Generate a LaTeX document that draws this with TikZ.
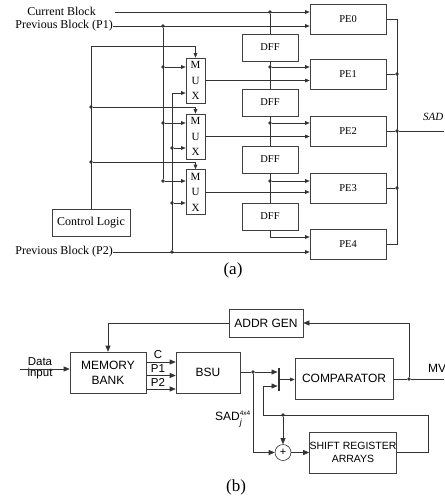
\documentclass[tikz,border=0pt]{standalone}
\usepackage{fontspec}
\setmainfont{Liberation Serif}
\setsansfont{Liberation Sans}
\usetikzlibrary{arrows.meta,calc}
\begin{document}
\begin{tikzpicture}[x=1pt,y=-1pt,
  wire/.style={draw=black!80, line width=0.6pt},
  arr/.style={wire, -{Triangle[length=4.5pt,width=3.6pt]}},
  barr/.style={wire, -{Triangle[length=6pt,width=5pt]}},
  dot/.style={circle, fill=black!80, inner sep=0pt, minimum size=3.6pt},
  blk/.style={draw=black!75, line width=0.6pt, rectangle, inner sep=0pt, align=center},
  lbl/.style={inner sep=0pt, font=\fontsize{12}{14}\selectfont},
  slbl/.style={inner sep=0pt, font=\sffamily\fontsize{11.5}{13}\selectfont},
  pebox/.style={blk, minimum width=76pt, minimum height=30pt, font=\fontsize{10.5}{12}\selectfont},
  dffbox/.style={blk, minimum width=56pt, minimum height=27pt, font=\fontsize{10.5}{12}\selectfont},
  muxbox/.style={blk, minimum width=19pt, minimum height=45pt, font=\fontsize{11}{15.5}\selectfont},
  sbox/.style={blk, font=\sffamily\fontsize{12}{15}\selectfont}
]
\useasboundingbox (0,0) rectangle (444,500);

% ---------------- (a) ----------------
\node[pebox] (pe0) at (348,19) {PE0};
\node[pebox] (pe1) at (348,74) {PE1};
\node[pebox] (pe2) at (348,131) {PE2};
\node[pebox] (pe3) at (348,188) {PE3};
\node[pebox] (pe4) at (348,244) {PE4};

\node[dffbox] (dff1) at (270,47.5) {DFF};
\node[dffbox] (dff2) at (270,102.5) {DFF};
\node[dffbox] (dff3) at (270,159.5) {DFF};
\node[dffbox] (dff4) at (270,216.5) {DFF};

\node[muxbox] (mux1) at (195.5,80.5) {M\\U\\X};
\node[muxbox] (mux2) at (195.5,136.5) {M\\U\\X};
\node[muxbox] (mux3) at (195.5,192) {M\\U\\X};

\node[blk, minimum width=78pt, minimum height=27pt, font=\fontsize{12}{14}\selectfont] (ctl) at (91,222.5) {Control Logic};

\node[lbl, anchor=east] (cbt) at (96,11) {Current Block};
\node[lbl, anchor=east] (p1t) at (113,26) {Previous Block (P1)};
\node[lbl, anchor=east] (p2t) at (113,252) {Previous Block (P2)};

% current block + DFF chain
\coordinate (cbs) at (115,12);
\node[dot] (d0) at (270,12) {};
\draw[arr] (cbs) -- (pe0.west |- cbs);
\draw[wire] (d0) -- (dff1.north);
\node[dot] (e1) at (270,67) {};
\node[dot] (e2) at (270,123) {};
\node[dot] (e3) at (270,181) {};
\coordinate (e4) at (270,237);
\draw[wire] (dff1.south) -- (dff2.north);
\draw[wire] (dff2.south) -- (dff3.north);
\draw[wire] (dff3.south) -- (dff4.north);
\draw[arr] (dff4.south) -- (e4) -- (pe4.west |- e4);
\draw[arr] (e1) -- (pe1.west |- e1);
\draw[arr] (e2) -- (pe2.west |- e2);
\draw[arr] (e3) -- (pe3.west |- e3);

% P1 bus
\draw[arr] (p1t.east) -- (pe0.west |- p1t.east);
\node[dot] (q0) at (163,26) {};
\node[dot] (q1) at (163,67) {};
\node[dot] (q2) at (163,123) {};
\node[dot] (q3) at (163,181) {};
\draw[wire] (q0) -- (q3);
\draw[arr] (q1) -- (mux1.west |- q1);
\draw[arr] (q2) -- (mux2.west |- q2);
\draw[arr] (q3) -- (mux3.west |- q3);

% P2 bus
\draw[arr] (p2t.east) -- (pe4.west |- p2t.east);
\node[dot] (r3) at (172,252) {};
\node[dot] (r2) at (172,203) {};
\node[dot] (r1) at (172,148) {};
\coordinate (r0) at (172,93);
\draw[arr] (r3) -- (r0) -- (mux1.west |- r0);
\draw[arr] (r1) -- (mux2.west |- r1);
\draw[arr] (r2) -- (mux3.west |- r2);

% control
\coordinate (c0) at (91,46);
\node[dot] (c1) at (91,107) {};
\node[dot] (c2) at (91,162) {};
\draw[arr] (ctl.north) -- (c0) -- (c0 -| mux1.north) -- (mux1.north);
\draw[arr] (c1) -- (c1 -| mux2.north) -- (mux2.north);
\draw[arr] (c2) -- (c2 -| mux3.north) -- (mux3.north);

% mux outputs
\draw[arr] (mux1.east) -- (pe1.west |- mux1.east);
\draw[arr] (mux2.east) -- (pe2.west |- mux2.east);
\draw[arr] (mux3.east) -- (pe3.west |- mux3.east);

% PE outputs
\coordinate (o0) at (397,19);
\coordinate (o4) at (397,244);
\node[dot] (o1) at (397,74) {};
\node[dot] (o2) at (397,131) {};
\node[dot] (o3) at (397,188) {};
\draw[wire] (pe0.east) -- (o0) -- (o4) -- (pe4.east);
\draw[wire] (pe1.east) -- (o1);
\draw[wire] (pe2.east) -- (o2);
\draw[wire] (pe3.east) -- (o3);
\coordinate (sadend) at (444,131);
\draw[wire] (o2) -- (sadend);
\node[inner sep=0pt, anchor=west, font=\itshape\fontsize{11}{13}\selectfont] (sadt) at (423,117) {SAD};

\node[inner sep=0pt, font=\fontsize{17}{19}\selectfont] (capa) at (233,270) {(a)};

% ---------------- (b) ----------------
\node[sbox, minimum width=76pt, minimum height=41pt] (mb) at (108,372.5) {MEMORY\\BANK};
\node[sbox, minimum width=64pt, minimum height=41pt] (bsu) at (208,372.5) {BSU};
\node[sbox, minimum width=74pt, minimum height=28pt] (adg) at (266,323) {ADDR GEN};
\node[sbox, minimum width=98pt, minimum height=41pt] (comp) at (344,378.5) {COMPARATOR};
\node[blk, minimum width=82pt, minimum height=41pt, font=\sffamily\fontsize{10.5}{13.5}\selectfont] (sr) at (353,452.5) {SHIFT REGISTER\\ARRAYS};
\node[draw=black!80, line width=0.6pt, circle, minimum size=16pt, inner sep=0pt, font=\sffamily\fontsize{11}{12}\selectfont] (add) at (283,452.5) {+};
\node[fill=black!80, minimum width=2.5pt, minimum height=23pt, inner sep=0pt] (bar) at (279,379.5) {};

\node[slbl] (datat) at (40,362) {Data};
\node[slbl] (inputt) at (40,374) {input};
\coordinate (din) at (20,369);
\draw[barr] (din) -- (mb.west |- din);

\coordinate (yc) at (0,362);
\coordinate (yp1) at (0,375.5);
\coordinate (yp2) at (0,389);
\draw[barr] (mb.east |- yc) -- (bsu.west |- yc);
\draw[barr] (mb.east |- yp1) -- (bsu.west |- yp1);
\draw[barr] (mb.east |- yp2) -- (bsu.west |- yp2);
\node[slbl] (lc) at (158,355) {C};
\node[slbl] (lp1) at (158,368.5) {P1};
\node[slbl] (lp2) at (158,382) {P2};

\draw[barr] (adg.west) -- (adg.west -| mb.north) -- (mb.north);

\node[dot] (bd) at (253,372) {};
\draw[wire] (bsu.east |- bd) -- (bd);
\draw[barr] (bd) -- (bar.west |- bd);
\draw[arr] (bar.east) -- (comp.west |- bar.east);

\node[dot] (md) at (409,379) {};
\coordinate (mvend) at (444,379);
\draw[wire] (comp.east |- md) -- (md) -- (mvend);
\node[slbl, anchor=west, font=\sffamily\fontsize{12}{14}\selectfont] (mvt) at (428,368) {MV};
\draw[barr] (md) -- (md |- adg.east) -- (adg.east);

\coordinate (sa) at (253,452.5);
\draw[barr] (bd) -- (sa) -- (add.west);
\draw[barr] (add.east) -- (sr.west |- add.east);

\coordinate (f1) at (428,452.5);
\coordinate (f2) at (428,415);
\node[dot] (fd) at (283,415) {};
\coordinate (f3) at (263,415);
\coordinate (f4) at (263,386);
\draw[barr] (sr.east) -- (f1) -- (f2) -- (f3) -- (f4) -- (bar.west |- f4);
\draw[barr] (fd) -- (add.north);

\node[slbl, anchor=west, font=\sffamily\fontsize{12}{14}\selectfont] (sadl) at (215,419.5) {SAD\rlap{\raisebox{5pt}{\fontsize{6.5}{7}\selectfont 4x4}}\raisebox{-5pt}{\fontsize{9}{10}\selectfont\itshape j}};

\node[inner sep=0pt, font=\fontsize{17}{19}\selectfont] (capb) at (236,487) {(b)};
\end{tikzpicture}
\end{document}
